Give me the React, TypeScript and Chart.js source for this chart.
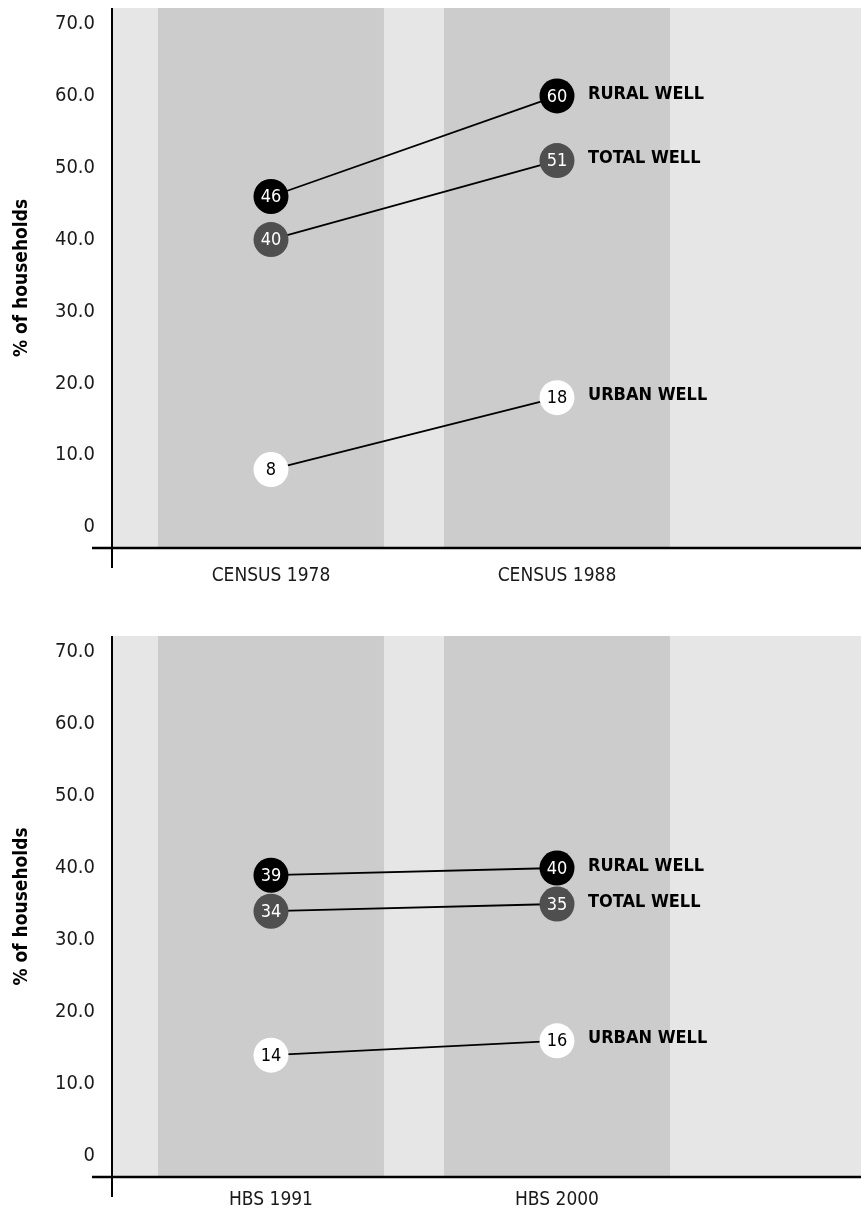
import React, { useEffect, useRef } from 'react';
import { Chart, registerables } from 'chart.js';

Chart.register(...registerables);

// ---- data ----
const topCategories = ['CENSUS 1978', 'CENSUS 1988'];
const bottomCategories = ['HBS 1991', 'HBS 2000'];
const seriesNames = ['RURAL WELL', 'TOTAL WELL', 'URBAN WELL'];
const topRural = [46, 60];
const topTotal = [40, 51];
const topUrban = [8, 18];
const bottomRural = [39, 40];
const bottomTotal = [34, 35];
const bottomUrban = [14, 16];
const yTickValues = [0, 10, 20, 30, 40, 50, 60, 70];
const yAxisTitle = '% of households';

// ---- style ----
const NARROW = "'Liberation Sans Narrow', 'DejaVu Sans Condensed', sans-serif";
const circleFill = ['#000000', '#4f4f4f', '#ffffff'];
const circleText = ['#ffffff', '#ffffff', '#000000'];
const BG_LIGHT = '#e6e6e6';
const BG_BAND = '#cccccc';

type PanelProps = {
  categories: string[];
  rural: number[];
  total: number[];
  urban: number[];
  height: number;
  axisHeight: number;
  labelPad: number;
};

function zeroPadding(scale: any) {
  scale.paddingLeft = 0;
  scale.paddingRight = 0;
  scale.paddingTop = 0;
  scale.paddingBottom = 0;
}

function Panel({ categories, rural, total, urban, height, axisHeight, labelPad }: PanelProps) {
  const ref = useRef<HTMLCanvasElement | null>(null);

  useEffect(() => {
    if (!ref.current) return;
    const series = [rural, total, urban];

    const bgPlugin = {
      id: 'bands',
      beforeDatasetsDraw(chart: any) {
        const { ctx, chartArea } = chart;
        const xs = chart.scales.x;
        ctx.save();
        ctx.fillStyle = BG_LIGHT;
        ctx.fillRect(chartArea.left, chartArea.top, chartArea.right - chartArea.left, chartArea.bottom - chartArea.top);
        ctx.fillStyle = BG_BAND;
        categories.forEach((_, i) => {
          const l = xs.getPixelForValue(i - 0.395);
          const r = xs.getPixelForValue(i + 0.395);
          ctx.fillRect(l, chartArea.top, r - l, chartArea.bottom - chartArea.top);
        });
        ctx.restore();
      },
    };

    const axisPlugin = {
      id: 'crossAxes',
      afterDraw(chart: any) {
        const { ctx, chartArea } = chart;
        ctx.save();
        ctx.strokeStyle = '#000';
        ctx.lineWidth = 2;
        ctx.beginPath();
        ctx.moveTo(chartArea.left - 1, chartArea.top);
        ctx.lineTo(chartArea.left - 1, chartArea.bottom + 20);
        ctx.stroke();
        ctx.lineWidth = 2.6;
        ctx.beginPath();
        ctx.moveTo(chartArea.left - 21, chartArea.bottom);
        ctx.lineTo(chartArea.right, chartArea.bottom);
        ctx.stroke();
        ctx.restore();
      },
    };

    const labelPlugin = {
      id: 'pointLabels',
      afterDatasetsDraw(chart: any) {
        const { ctx } = chart;
        ctx.save();
        chart.data.datasets.forEach((ds: any, i: number) => {
          const meta = chart.getDatasetMeta(i);
          meta.data.forEach((pt: any, j: number) => {
            ctx.fillStyle = circleText[i];
            ctx.font = `18px ${NARROW}`;
            ctx.textAlign = 'center';
            ctx.textBaseline = 'middle';
            ctx.fillText(String(series[i][j]), pt.x, pt.y + 1);
          });
          const last = meta.data[meta.data.length - 1];
          ctx.fillStyle = '#000';
          ctx.font = `bold 18px ${NARROW}`;
          ctx.textAlign = 'left';
          ctx.textBaseline = 'middle';
          ctx.fillText(ds.label, last.x + 31, last.y - 2);
        });
        ctx.restore();
      },
    };

    const chart = new Chart(ref.current, {
      type: 'line',
      data: {
        datasets: series.map((vals, i) => ({
          label: seriesNames[i],
          data: vals.map((v, j) => ({ x: j, y: v })),
          borderColor: '#000',
          borderWidth: 1.8,
          pointRadius: 17.5,
          pointHoverRadius: 17.5,
          pointBackgroundColor: circleFill[i],
          pointBorderWidth: 0,
          pointBorderColor: circleFill[i],
          fill: false,
          tension: 0,
        })),
      },
      options: {
        responsive: false,
        animation: false,
        devicePixelRatio: 1,
        layout: { autoPadding: false, padding: { top: 8, right: 0, left: 0, bottom: 0 } },
        plugins: {
          legend: { display: false },
          tooltip: { enabled: false },
        },
        events: [],
        scales: {
          x: {
            type: 'linear',
            min: -0.5524,
            max: 2.063,
            grid: { display: false, drawTicks: false },
            border: { display: false },
            afterBuildTicks: (scale: any) => {
              scale.ticks = categories.map((_, i) => ({ value: i }));
            },
            afterFit: (scale: any) => {
              scale.height = axisHeight;
              zeroPadding(scale);
            },
            ticks: {
              padding: labelPad,
              autoSkip: false,
              maxRotation: 0,
              color: '#1a1a1a',
              font: { family: NARROW, size: 19 },
              callback: (v: any) => categories[Math.round(Number(v))] ?? '',
            },
          },
          y: {
            type: 'linear',
            min: -2.92,
            max: 72.23,
            grid: { display: false, drawTicks: false },
            border: { display: false },
            afterBuildTicks: (scale: any) => {
              scale.ticks = yTickValues.map((v) => ({ value: v }));
            },
            afterFit: (scale: any) => {
              scale.width = 113;
              zeroPadding(scale);
            },
            ticks: {
              padding: 18,
              color: '#1a1a1a',
              font: { family: NARROW, size: 20 },
              callback: (v: any) => (Number(v) === 0 ? '0' : Number(v).toFixed(1)),
            },
            title: {
              display: true,
              text: yAxisTitle,
              color: '#000',
              padding: { top: 11, bottom: 0 },
              font: { family: NARROW, size: 19, weight: 'bold' },
            },
          },
        },
      },
      plugins: [bgPlugin, labelPlugin, axisPlugin],
    });
    return () => chart.destroy();
  }, [categories, rural, total, urban, height, axisHeight, labelPad]);

  return (
    <canvas
      ref={ref}
      width={861}
      height={height}
      style={{ display: 'block', width: 861, height }}
    />
  );
}

export default function App() {
  return (
    <div style={{ position: 'absolute', left: 0, top: 0, width: 861, height: 1211, overflow: 'hidden', background: '#fff' }}>
      <Panel categories={topCategories} rural={topRural} total={topTotal} urban={topUrban} height={628} axisHeight={80} labelPad={17} />
      <Panel categories={bottomCategories} rural={bottomRural} total={bottomTotal} urban={bottomUrban} height={583} axisHeight={34} labelPad={12} />
    </div>
  );
}
